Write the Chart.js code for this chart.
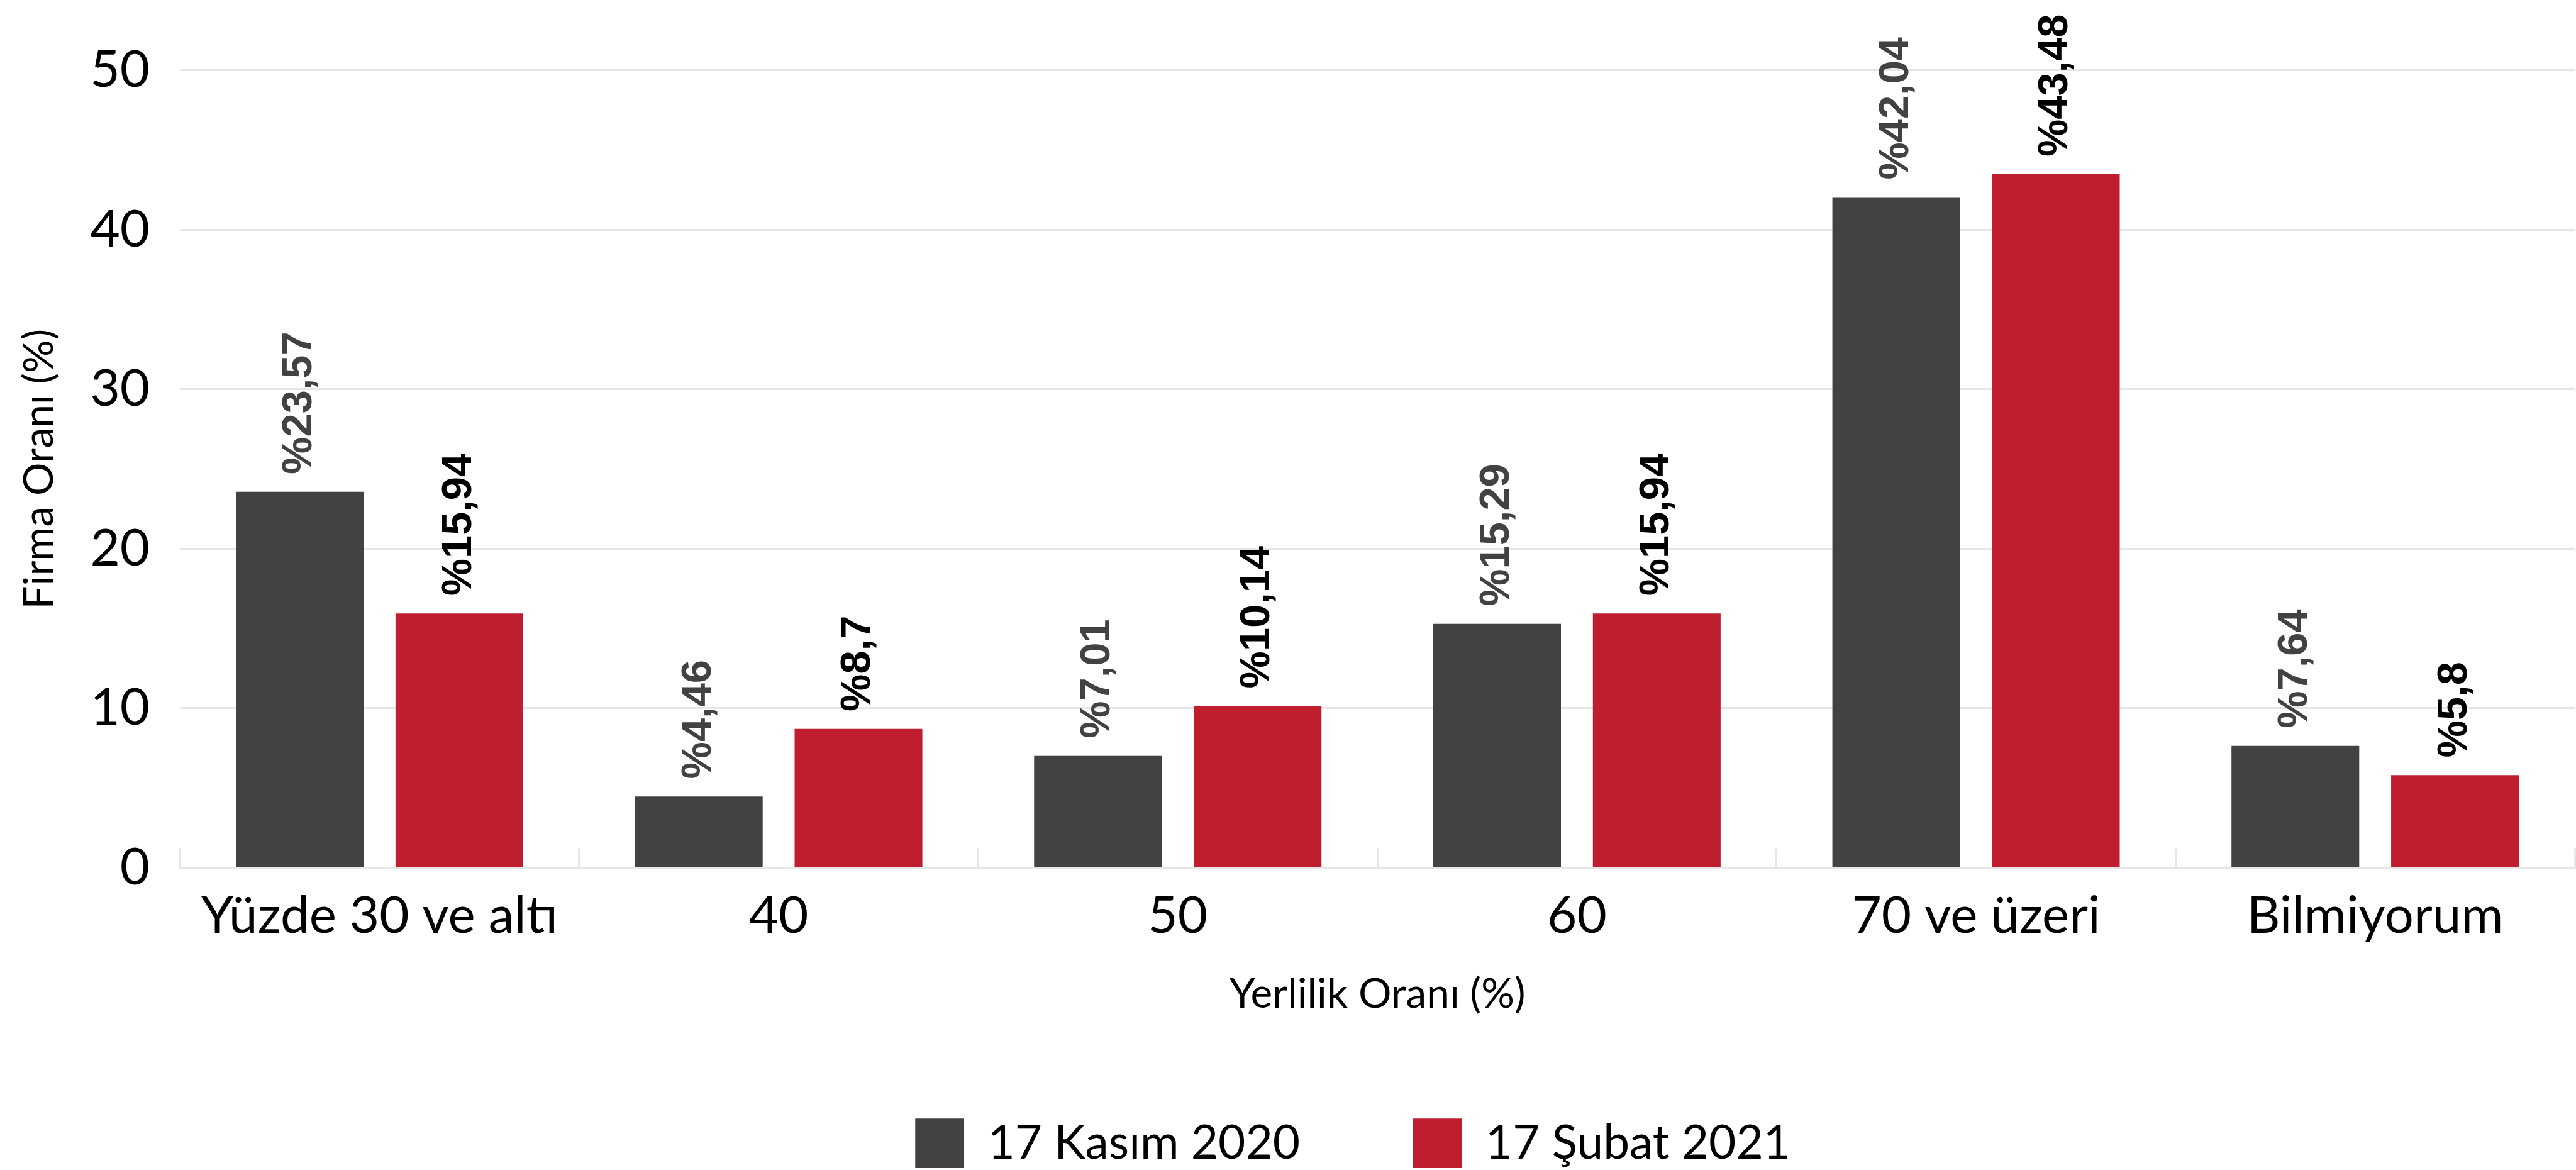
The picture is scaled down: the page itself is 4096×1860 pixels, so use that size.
<!DOCTYPE html>
<html>
<head>
<meta charset="utf-8">
<script src="https://cdn.jsdelivr.net/npm/chart.js@4/dist/chart.umd.min.js"></script>
<style>
  html, body { margin: 0; padding: 0; background: #fff; }
  canvas { display: block; }
</style>
</head>
<body>
<canvas id="yerlilikChart" width="4096" height="1860" style="width:4096px;height:1860px"></canvas>
<script>
const S = 0.997; // reference -> window
const s = v => v * S;

const categories = ['Yüzde 30 ve altı', '40', '50', '60', '70 ve üzeri', 'Bilmiyorum'];
const seriesNames = ['17 Kasım 2020', '17 Şubat 2021'];
const kasim2020 = [23.57, 4.46, 7.01, 15.29, 42.04, 7.64];
const subat2021 = [15.94, 8.7, 10.14, 15.94, 43.48, 5.8];
const yTicks = [0, 10, 20, 30, 40, 50];

const barColors = ['#424244', '#be1e2d'];
const labelColors = ['#424244', '#000000'];
const gridColor = '#e6e6e6';
const FONT = 'Lato, "Open Sans", sans-serif';

// dikey değer etiketleri (%23,57 gibi)
const barLabels = {
    id: 'barLabels',
    afterDatasetsDraw(chart) {
        const ctx = chart.ctx;
        chart.data.datasets.forEach((ds, i) => {
            const meta = chart.getDatasetMeta(i);
            meta.data.forEach((bar, j) => {
                ctx.save();
                ctx.translate(bar.x, bar.y - s(28));
                ctx.rotate(-Math.PI / 2);
                ctx.font = `bold ${s(67)}px "Liberation Sans", Arial, sans-serif`;
                ctx.fillStyle = labelColors[i];
                ctx.textAlign = 'left';
                ctx.textBaseline = 'middle';
                ctx.fillText('%' + String(ds.data[j]).replace('.', ','), 0, 0);
                ctx.restore();
            });
        });
    }
};

// lejantı referanstaki konuma kaydır
const legendShift = {
    id: 'legendShift',
    afterLayout(chart) {
        chart.legend.left += s(104.5);
        chart.legend.right += s(104.5);
    }
};

const data = {
    labels: categories,
    datasets: [
        { label: seriesNames[0], data: kasim2020, backgroundColor: barColors[0], borderWidth: 0 },
        { label: seriesNames[1], data: subat2021, backgroundColor: barColors[1], borderWidth: 0 }
    ]
};

const config = {
    type: 'bar',
    data: data,
    options: {
        responsive: false,
        animation: false,
        devicePixelRatio: 1,
        categoryPercentage: 0.8,
        barPercentage: 0.8,
        layout: { padding: { top: s(112), right: s(2), bottom: s(-7), left: 0 } },
        plugins: {
            tooltip: { enabled: false },
            legend: {
                position: 'bottom',
                align: 'center',
                labels: {
                    boxWidth: s(78),
                    boxHeight: s(79),
                    padding: s(180),
                    color: '#000',
                    font: { family: FONT, size: s(75) }
                }
            }
        },
        scales: {
            x: {
                afterFit: scale => { scale.height = s(220); },
                grid: {
                    offset: true,
                    drawOnChartArea: false,
                    drawTicks: true,
                    tickLength: s(-31),
                    color: gridColor,
                    lineWidth: s(3)
                },
                border: { display: true, color: gridColor, width: s(3) },
                ticks: {
                    color: '#000',
                    padding: s(58.8),
                    maxRotation: 0,
                    font: { family: FONT, size: s(82) }
                },
                title: {
                    display: true,
                    text: 'Yerlilik Oranı (%)',
                    color: '#000',
                    padding: { top: 0, bottom: s(-21.6) },
                    font: { family: FONT, size: s(66) }
                }
            },
            y: {
                min: 0,
                max: 50,
                afterFit: scale => { scale.width = s(287); },
                afterBuildTicks: scale => { scale.ticks = yTicks.map(v => ({ value: v })); },
                grid: { color: gridColor, lineWidth: s(3), drawTicks: false },
                border: { display: false },
                ticks: {
                    color: '#000',
                    padding: s(48),
                    font: { family: FONT, size: s(82) }
                },
                title: {
                    display: true,
                    text: 'Firma Oranı (%)',
                    color: '#000',
                    padding: { top: s(23.4), bottom: 0 },
                    font: { family: FONT, size: s(66) }
                }
            }
        }
    },
    plugins: [barLabels, legendShift]
};

let chartCanvas = document.getElementById('yerlilikChart');
new Chart(chartCanvas, config);
</script>
</body>
</html>
